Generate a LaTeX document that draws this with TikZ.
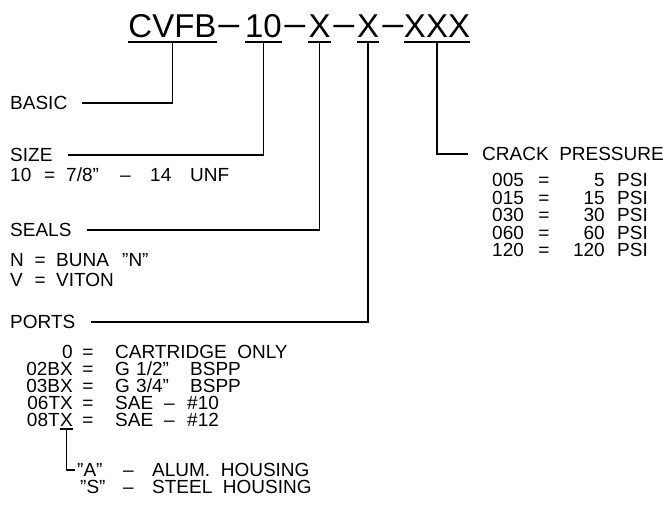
\documentclass[tikz,border=0pt]{standalone}
\usepackage{fontspec}
\setmainfont[WordSpace=2]{Liberation Sans}
\usetikzlibrary{positioning, calc}

\begin{document}
\begin{tikzpicture}[
  x=1pt, y=-1pt,
  font=\fontsize{19}{21}\selectfont,
  voce/.style={inner sep=0pt, text height=13.5pt, text depth=0pt},
  voceov/.style={voce, anchor=west},
  voceest/.style={voce, anchor=east},
  codice/.style={inner sep=0pt, font=\fontsize{33}{36}\selectfont,
                 text height=24pt, text depth=0pt},
  fdline/.style={draw=black, line width=1.5pt},
  guida/.style={fdline, shorten >=15pt}
]
\useasboundingbox (0,0) rectangle (668,523);

%--------------------------------------------------------------
% Codice d'ordine
%--------------------------------------------------------------
\foreach \nome/\x/\w/\testo in {%
  base/172.5/83/CVFB, misura/263.5/37/10, tenuta/319.5/23/X,
  attacco/368/22/X, taratura/437/60/XXX}{
  \node[codice, minimum width=\w pt] (\nome) at (\x,25) {\testo};
  \draw[fdline] ([yshift=-5pt]\nome.south west) -- ([yshift=-5pt]\nome.south east);
}
\foreach \x [count=\i] in {229,295,344,393}
  \node[codice] (trattino\i) at (\x,25) {\scalebox{1.3}[1]{−}};

%--------------------------------------------------------------
% Voci a sinistra
%--------------------------------------------------------------
\node[voceov] (basic) at (10,103) {BASIC};
\node[voceov] (size) at (10,155) {SIZE};
\node[voceov] (seals) at (10,230) {SEALS};
\node[voceov] (ports) at (10,322) {PORTS};

\foreach \t/\x [count=\i] in {10/10, =/44, {7/8”}/66, –/120, 14/150, UNF/190}
  \node[voceov] (sz\i) at (\x,175) {\t};
\foreach \t/\x [count=\i] in {N/10, =/34.5, BUNA/56, ”N”/122}
  \node[voceov] (sn\i) at (\x,260) {\t};
\foreach \t/\x [count=\i] in {V/10, =/34.5, VITON/56}
  \node[voceov] (sv\i) at (\x,280) {\t};

\draw[guida] ([yshift=-5pt]base.south) |- (basic);
\draw[guida] ([yshift=-5pt]misura.south) |- (size);
\draw[guida] ([yshift=-5pt]tenuta.south) |- (seals);
\draw[guida] ([yshift=-5pt]attacco.south) |- (ports);

%--------------------------------------------------------------
% Attacchi
%--------------------------------------------------------------
\foreach \cod/\parti/\y in {%
  0/{{CARTRIDGE ONLY}/115}/352,
  02BX/{G/115, {1/2”}/136, BSPP/190}/369,
  03BX/{G/115, {3/4”}/136, BSPP/190}/386,
  06TX/{SAE/115, –/164, \#10/187}/403}{
  \node[voceest] (cod\cod) at (73,\y) {\cod};
  \node[voce] (ug\cod) at (88,\y) {=};
  \foreach \t/\x [count=\j] in \parti
    \node[voceov] (des\cod-\j) at (\x,\y) {\t};
}
\node[voceest] (x08) at (73,420) {X};
\node[voceest] (cod08) at (x08.west) {08T};
\node[voce] (ug08) at (88,420) {=};
\foreach \t/\x [count=\j] in {SAE/115, –/164, \#12/187}
  \node[voceov] (des08-\j) at (\x,420) {\t};
\draw[fdline] ([yshift=-2pt]x08.south west) -- ([yshift=-2pt]x08.south east);

\foreach \nome/\sigla/\x/\des/\y in {%
  alluminio/A/77/{ALUM. HOUSING}/470, acciaio/S/80/{STEEL HOUSING}/487}{
  \node[voceov] (\nome) at (\x,\y) {”\sigla”};
  \node[voceov] (tr\nome) at (123,\y) {–};
  \node[voceov] (des\nome) at (152,\y) {\des};
}
\draw[fdline, shorten >=2pt] ([yshift=-2pt]x08.south) |- (alluminio);

%--------------------------------------------------------------
% Pressione di apertura
%--------------------------------------------------------------
\node[voceov] (pressione) at (482,154) {CRACK PRESSURE};
\draw[guida, shorten >=14pt] ([yshift=-5pt]taratura.south) |- (pressione);

\foreach \cod/\val/\y in {%
  005/5/180, 015/15/197.5, 030/30/215, 060/60/232.5, 120/120/250}{
  \node[voceov] (p\cod) at (492,\y) {\cod};
  \node[voce] (pug\cod) at (544,\y) {=};
  \node[voceest] (pval\cod) at (605,\y) {\val};
  \node[voceov] (psi\cod) at (617,\y) {PSI};
}

\end{tikzpicture}
\end{document}
